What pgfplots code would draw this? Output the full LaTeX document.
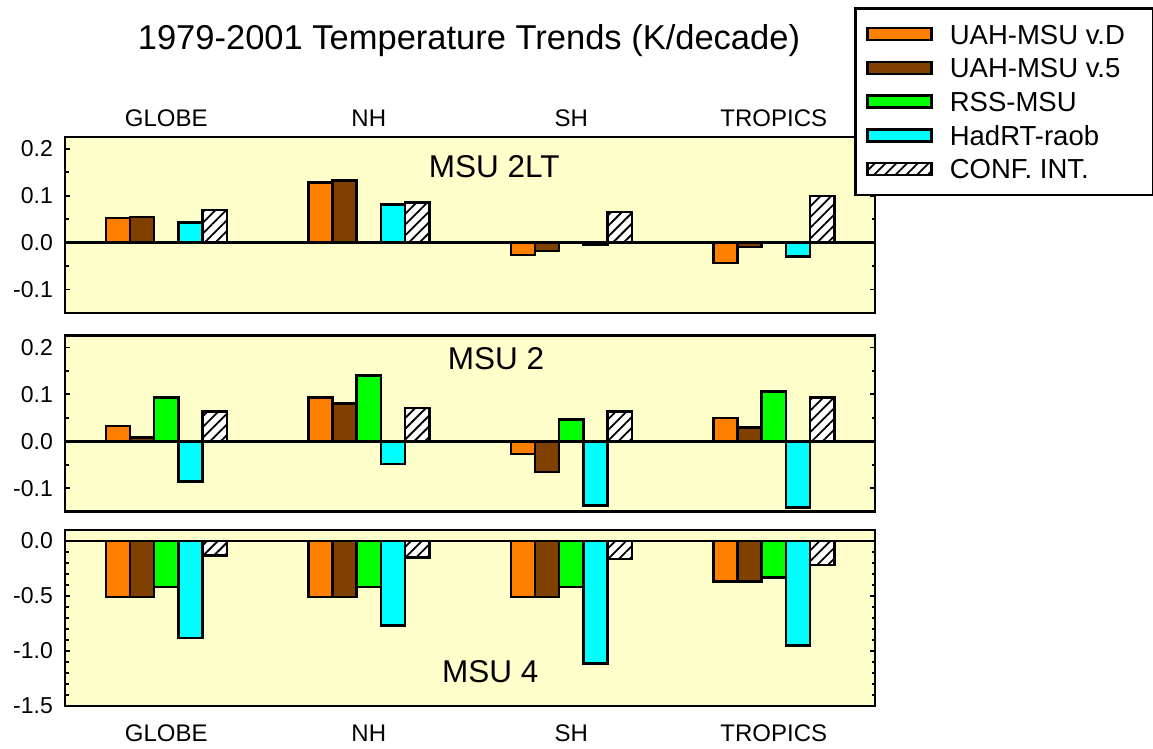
\documentclass[border=0pt]{standalone}
\usepackage{fontspec}
\setmainfont{Liberation Sans}
\usepackage{pgfplots}
\usepackage{pgfplotstable}
\pgfplotsset{compat=1.18}
\usetikzlibrary{patterns.meta}

\definecolor{uahd}{RGB}{255,128,0}
\definecolor{uahv}{RGB}{128,64,0}
\definecolor{rss}{RGB}{0,255,0}
\definecolor{hadrt}{RGB}{0,255,255}
\definecolor{panelbg}{RGB}{255,255,204}

\newcommand{\fs}[1]{\fontsize{#1}{#1}\selectfont}

% Trends (K/decade) per region: GLOBE, NH, SH, TROPICS
\pgfplotstableread{
x    uahD    uahV    hadrt   conf
0.5  0.052   0.055   0.043   0.069
1.5  0.128   0.132   0.081   0.085
2.5 -0.026  -0.018  -0.004   0.065
3.5 -0.043  -0.009  -0.030   0.099
}\tltdata

\pgfplotstableread{
x    uahD    uahV    rss     hadrt   conf
0.5  0.033   0.008   0.093  -0.086   0.063
1.5  0.093   0.081   0.140  -0.048   0.071
2.5 -0.027  -0.065   0.046  -0.137   0.063
3.5  0.050   0.029   0.106  -0.141   0.093
}\twodata

\pgfplotstableread{
x    uahD    uahV    rss     hadrt   conf
0.5 -0.51   -0.51   -0.42   -0.88   -0.13
1.5 -0.51   -0.51   -0.42   -0.77   -0.15
2.5 -0.51   -0.51   -0.42   -1.115  -0.165
3.5 -0.37   -0.37   -0.33   -0.95   -0.22
}\fourdata

\pgfplotsset{
  swatch/.style={legend image code/.code={\draw[##1] (0pt,-6pt) rectangle (64pt,6pt);}},
  trendbar/.style={ybar, bar width=24.2pt, draw=black, line width=2.5pt, swatch},
  barUAHD/.style={trendbar, fill=uahd, bar shift=-48.4pt},
  barUAHV/.style={trendbar, fill=uahv, bar shift=-24.2pt},
  barRSS/.style={trendbar, fill=rss, bar shift=0pt},
  barHAD/.style={trendbar, fill=hadrt, bar shift=24.2pt},
  barCONF/.style={trendbar, fill=white, bar shift=48.4pt,
    postaction={pattern={Lines[angle=45,distance=7.6pt,line width=1.8pt]}, pattern color=black}},
  trendpanel/.style={
    scale only axis, width=810pt, height=176pt,
    anchor=south west,
    xmin=0, xmax=4,
    axis line style={line width=2.6pt},
    axis background/.style={fill=panelbg},
    xtick style={draw=none},
    ytick pos=both, yticklabel pos=left,
    tick align=inside,
    major tick length=5pt, minor tick length=3.5pt,
    ytick style={black, line width=1.8pt},
    yticklabel style={font=\fs{23}, inner sep=0pt, xshift=-12pt,
      /pgf/number format/fixed, /pgf/number format/fixed zerofill,
      /pgf/number format/precision=1, /pgf/number format/assume math mode=true},
    xticklabel style={font=\fs{24}, inner sep=0pt, anchor=base},
  },
  smallrange/.style={ymin=-0.15, ymax=0.225, ytick={-0.1,0,0.1,0.2}, minor tick num=1},
}

\begin{document}
\begin{tikzpicture}
\useasboundingbox (0pt,0pt) rectangle (1153pt,748pt);

\node[anchor=base, font=\fs{34.5}] at (469pt,698pt) {1979-2001 Temperature Trends (K/decade)};

% MSU 2LT
\begin{axis}[trendpanel, smallrange, at={(65pt,435pt)},
  xtick={0.5,1.5,2.5,3.5}, xticklabels={GLOBE,NH,SH,TROPICS},
  xticklabel pos=upper, xticklabel style={yshift=10.3pt}]
  \addplot[barUAHD] table[x=x, y=uahD] {\tltdata};
  \addplot[barUAHV] table[x=x, y=uahV] {\tltdata};
  \addplot[barHAD]  table[x=x, y=hadrt] {\tltdata};
  \addplot[barCONF] table[x=x, y=conf] {\tltdata};
  \draw[line width=2.4pt] (axis cs:0,0) -- (axis cs:4,0);
  \node[font=\fs{31.5}] at (axis description cs:0.530,0.831) {MSU 2LT};
\end{axis}

% MSU 2
\begin{axis}[trendpanel, smallrange, at={(65pt,236.3pt)}, xtick=\empty,
  legend cell align=left,
  legend style={at={(axis description cs:1.3448,2.8676)}, anchor=north east,
    draw=black, line width=2.6pt, fill=white,
    inner xsep=11pt, inner ysep=9pt, row sep=0pt, column sep=0pt,
    font=\fs{27.5},
    nodes={inner xsep=17pt, inner ysep=7pt, text height=19.7pt, text depth=0pt}}]
  \addplot[barUAHD] table[x=x, y=uahD] {\twodata};
  \addplot[barUAHV] table[x=x, y=uahV] {\twodata};
  \addplot[barRSS]  table[x=x, y=rss] {\twodata};
  \addplot[barHAD]  table[x=x, y=hadrt] {\twodata};
  \addplot[barCONF] table[x=x, y=conf] {\twodata};
  \draw[line width=2.4pt] (axis cs:0,0) -- (axis cs:4,0);
  \node[font=\fs{31.5}] at (axis description cs:0.532,0.868) {MSU 2};
  \legend{UAH-MSU v.D, UAH-MSU v.5, RSS-MSU, HadRT-raob, CONF. INT.}
\end{axis}

% MSU 4
\begin{axis}[trendpanel, at={(65pt,42pt)},
  ymin=-1.5, ymax=0.1, ytick={-1.5,-1,-0.5,0}, minor tick num=4,
  xtick={0.5,1.5,2.5,3.5}, xticklabels={GLOBE,NH,SH,TROPICS},
  xticklabel pos=lower, xticklabel style={yshift=-35.5pt}]
  \addplot[barUAHD] table[x=x, y=uahD] {\fourdata};
  \addplot[barUAHV] table[x=x, y=uahV] {\fourdata};
  \addplot[barRSS]  table[x=x, y=rss] {\fourdata};
  \addplot[barHAD]  table[x=x, y=hadrt] {\fourdata};
  \addplot[barCONF] table[x=x, y=conf] {\fourdata};
  \draw[line width=2.4pt] (axis cs:0,0) -- (axis cs:4,0);
  \node[font=\fs{31.5}] at (axis description cs:0.525,0.193) {MSU 4};
\end{axis}
\end{tikzpicture}
\end{document}
